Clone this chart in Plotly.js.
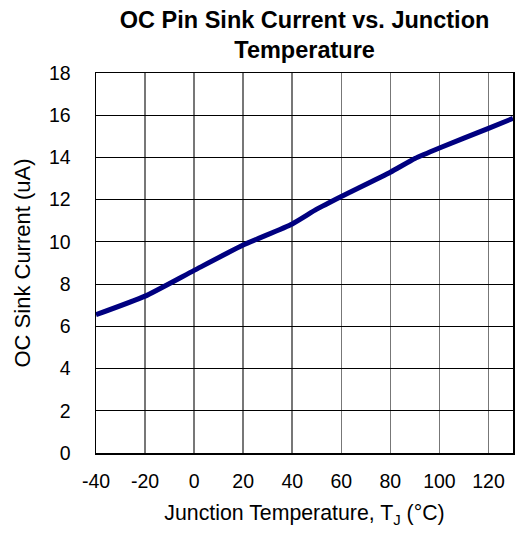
<!DOCTYPE html>
<html><head><meta charset="utf-8">
<script src="https://cdn.plot.ly/plotly-3.0.1.min.js"></script>
<style>html,body{margin:0;padding:0;background:#fff;}#c{width:518px;height:535px;}</style>
</head><body><div id="c"></div>
<script>
const temperature = [-40, -20, 0, 20, 40, 50, 60, 80, 90, 100, 120, 130];
const sinkCurrent = [6.55, 7.43, 8.65, 9.85, 10.85, 11.55, 12.15, 13.3, 13.95, 14.45, 15.38, 15.85];
const xTicks = [-40, -20, 0, 20, 40, 60, 80, 100, 120];
const xTickLabels = ['-40', '-20', '0', '20', '40', '60', '80', '100', '120'];
const yTicks = [0, 2, 4, 6, 8, 10, 12, 14, 16, 18];

const font = 'Liberation Sans, Arial, sans-serif';
const data = [{
  x: temperature, y: sinkCurrent, type: 'scatter', mode: 'lines',
  line: {color: '#000080', width: 5, shape: 'spline', smoothing: 0.5},
  hoverinfo: 'skip'
}];
const layout = {
  width: 518, height: 535,
  margin: {l: 96, r: 5, t: 73, b: 82},
  paper_bgcolor: '#fff', plot_bgcolor: '#fff',
  showlegend: false,
  title: {text: '<b>OC Pin Sink Current vs. Junction<br>Temperature</b>', x: 0.588, xanchor: 'center', y: 0.948, yanchor: 'top',
    font: {family: font, size: 23.5, color: '#000'}},
  xaxis: {range: [-40, 130], tickvals: xTicks, ticktext: xTickLabels, ticks: '', showgrid: true, gridcolor: '#777', gridwidth: 1.5,
    zeroline: false, showline: true, linecolor: '#000', linewidth: 1.5, mirror: true, ticklabelstandoff: 10,
    tickfont: {family: font, size: 19.5, color: '#000'},
    title: {text: 'Junction Temperature, T<sub>J</sub> (°C)', font: {family: font, size: 21.3, color: '#000'}, standoff: 14}},
  yaxis: {range: [0, 18], tickvals: yTicks, ticks: '', showgrid: true, gridcolor: '#000', gridwidth: 1.2,
    zeroline: false, showline: true, linecolor: '#000', linewidth: 1.5, mirror: true, ticklabelstandoff: 20,
    tickfont: {family: font, size: 19.5, color: '#000'},
    title: {text: 'OC Sink Current (uA)', font: {family: font, size: 22, color: '#000'}, standoff: 12}}
};
Plotly.newPlot('c', data, layout, {displayModeBar: false, staticPlot: true});
</script></body></html>
